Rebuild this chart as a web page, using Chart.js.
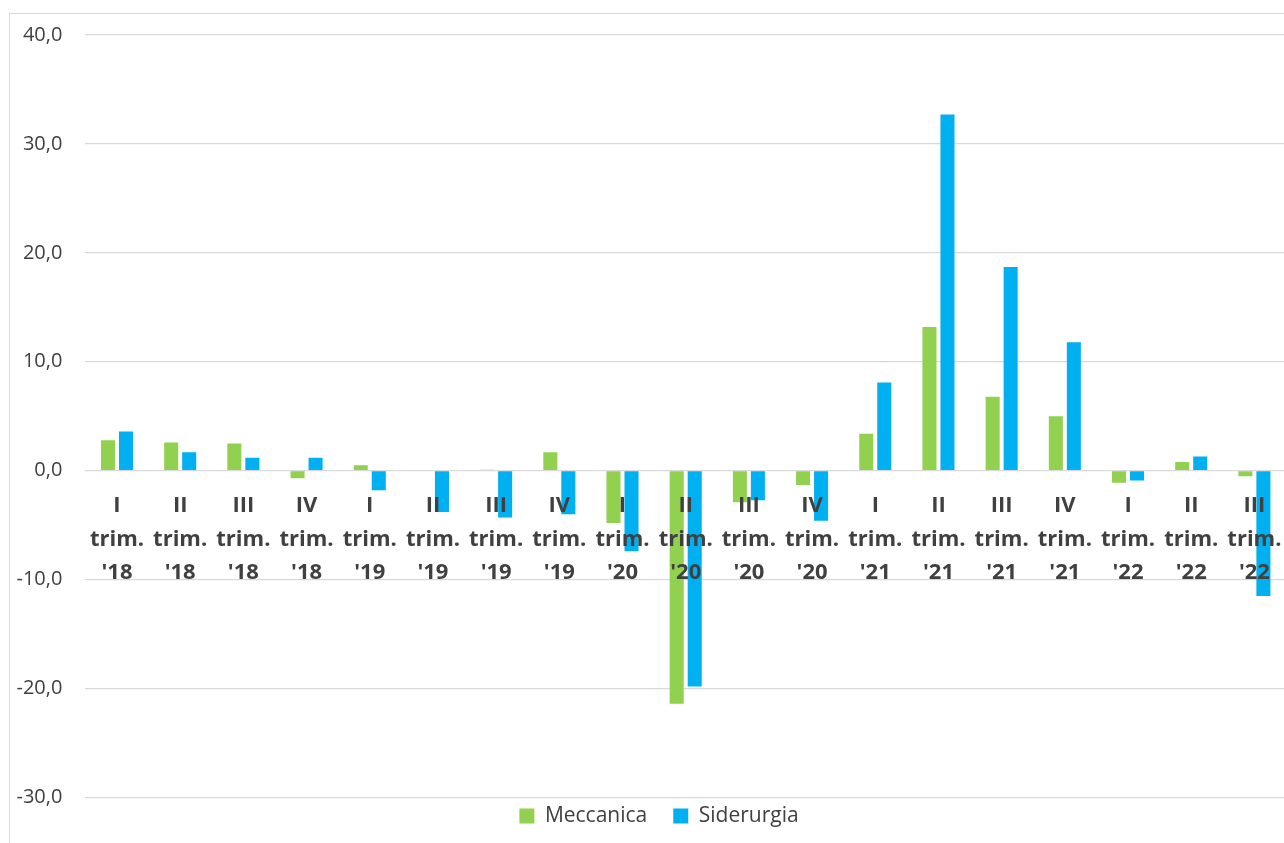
<!DOCTYPE html>
<html lang="it">
<head>
<meta charset="utf-8">
<title>Meccanica e Siderurgia</title>
<script src="https://cdn.jsdelivr.net/npm/chart.js@4.4.1/dist/chart.umd.min.js"></script>
<style>
  html, body { margin: 0; padding: 0; background: #ffffff; overflow: hidden; }
  #frame {
    position: absolute; left: 9px; top: 13px; width: 1400px; height: 900px;
    border: 1px solid #d9d9d9; box-sizing: border-box;
  }
  #wrap { position: absolute; left: 0; top: 0; width: 1290px; height: 843px; }
</style>
</head>
<body>
<div id="frame"></div>
<div id="wrap"><canvas id="chart"></canvas></div>
<script>
// Trimestri (etichette su tre righe)
const quarters = ['I', 'II', 'III', 'IV', 'I', 'II', 'III', 'IV', 'I', 'II', 'III', 'IV', 'I', 'II', 'III', 'IV', 'I', 'II', 'III'];
const years    = ["'18", "'18", "'18", "'18", "'19", "'19", "'19", "'19", "'20", "'20", "'20", "'20", "'21", "'21", "'21", "'21", "'22", "'22", "'22"];

// Variazioni percentuali
const meccanica  = [2.8, 2.6, 2.5, -0.7, 0.5, 0.0, 0.1, 1.7, -4.8, -21.4, -2.9, -1.3, 3.4, 13.2, 6.8, 5.0, -1.1, 0.8, -0.5];
const siderurgia = [3.6, 1.7, 1.2, 1.2, -1.8, -3.8, -4.3, -4.0, -7.4, -19.8, -2.7, -4.6, 8.1, 32.7, 18.7, 11.8, -0.9, 1.3, -11.5];

const yTicks = [-30, -20, -10, 0, 10, 20, 30, 40];

const labels = quarters.map((q, i) => [q, 'trim.', years[i]]);

const FONT = "'Open Sans', 'DejaVu Sans', sans-serif";
const TEXT = '#404040';

// Sposta la legenda sotto l'area del grafico, più vicina all'asse
const legendNudge = {
  id: 'legendNudge',
  afterLayout(chart) {
    const lg = chart.legend;
    if (!lg) return;
    lg.top -= 18; lg.bottom -= 18;
    lg.left += 16; lg.right += 16;
  }
};

new Chart(document.getElementById('chart'), {
  type: 'bar',
  data: {
    labels: labels,
    datasets: [
      { label: 'Meccanica',  data: meccanica,  backgroundColor: '#92D050', borderWidth: 0 },
      { label: 'Siderurgia', data: siderurgia, backgroundColor: '#00B0F0', borderWidth: 0 }
    ]
  },
  plugins: [legendNudge],
  options: {
    responsive: true,
    maintainAspectRatio: false,
    animation: false,
    datasets: { bar: { categoryPercentage: 0.57, barPercentage: 0.78 } },
    layout: { padding: { left: 0, right: 4, top: 28, bottom: -11.5 } },
    plugins: {
      legend: {
        position: 'bottom',
        labels: {
          boxWidth: 15, boxHeight: 15, padding: 26,
          color: TEXT, font: { family: FONT, size: 21 }
        }
      },
      tooltip: { enabled: false }
    },
    scales: {
      x: {
        position: { y: 0 },
        afterFit: (scale) => { scale.paddingLeft = 0; scale.paddingRight = 0; },
        grid: { display: false, drawTicks: false },
        border: { display: false },
        ticks: {
          z: 1,
          autoSkip: false, maxRotation: 0, minRotation: 0, padding: 18.5,
          color: TEXT,
          font: { family: FONT, size: 22, weight: 'bold', lineHeight: 1.52 }
        }
      },
      y: {
        min: -30, max: 40,
        afterFit: (scale) => { scale.width = 85.4; },
        afterBuildTicks: (scale) => { scale.ticks = yTicks.map(v => ({ value: v })); },
        grid: { color: '#d9d9d9', lineWidth: 1.3, drawTicks: false },
        border: { display: false },
        ticks: {
          padding: 23,
          color: TEXT,
          font: { family: FONT, size: 20 },
          callback: (v) => v.toFixed(1).replace('.', ',')
        }
      }
    }
  }
});
</script>
</body>
</html>
